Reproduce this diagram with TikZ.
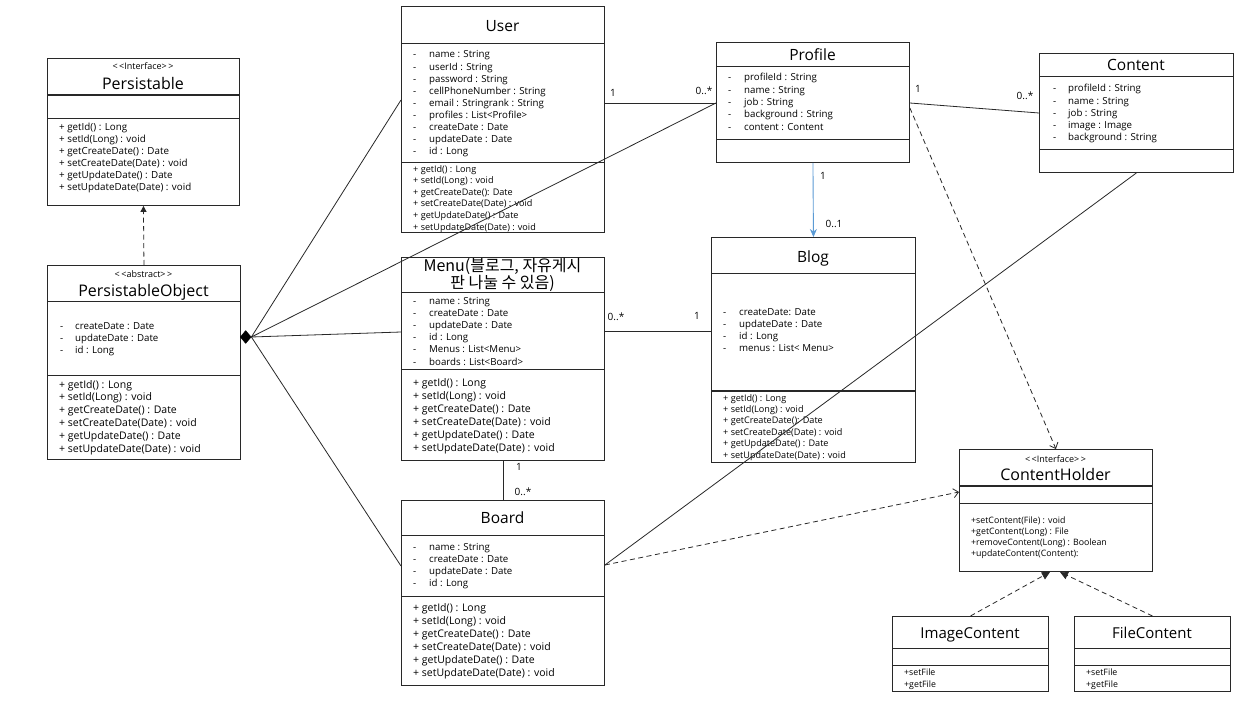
\documentclass[tikz,border=0pt]{standalone}
\usepackage{fontspec}
\setmainfont{Open Sans}
\newfontfamily\krfont{Noto Sans CJK KR}
\usetikzlibrary{arrows.meta,shapes.geometric}
\definecolor{lineblue}{RGB}{91,155,213}
\definecolor{ink}{RGB}{40,40,40}
\newcommand\attrlist[6]{% name prefix, dash x, text x, first y, step, list
  \foreach \t [count=\i from 0] in {#6} {
    \node[attr] (#1d\i) at (#2,#4+#5*\i) {-};
    \node[attr] (#1a\i) at (#3,#4+#5*\i) {\t};
  }}
\newcommand\methlist[6]{% name prefix, font style, x, first y, step, list
  \foreach \t [count=\i from 0] in {#6} {
    \node[attr,#2] (#1m\i) at (#3,#4+#5*\i) {\t};
  }}
\begin{document}
\begin{tikzpicture}[x=1pt,y=-1pt,
  box/.style={draw=ink, line width=0.9pt, anchor=north west, inner sep=0pt},
  sep/.style={draw=ink, line width=0.9pt},
  thicksep/.style={draw=ink, line width=1.9pt},
  title/.style={inner sep=0pt, text height=14pt, text depth=3pt, font=\fontsize{15.5}{17}\selectfont},
  stereo/.style={inner sep=0pt, text height=8pt, text depth=2pt, font=\fontsize{9}{10}\selectfont},
  attr/.style={anchor=west, inner sep=0pt, text height=6pt, text depth=2pt, font=\fontsize{9.7}{11}\selectfont},
  mbig/.style={font=\fontsize{10.5}{12}\selectfont},
  mmid/.style={font=\fontsize{9.8}{11}\selectfont},
  msmall/.style={font=\fontsize{9.1}{11}\selectfont},
  mtiny/.style={font=\fontsize{8.8}{10}\selectfont},
  mult/.style={inner sep=0pt, font=\fontsize{10}{11}\selectfont},
  conn/.style={draw=ink, line width=0.8pt},
  dconn/.style={draw=ink, line width=0.8pt, dash pattern=on 5pt off 3.5pt},
]
\useasboundingbox (0,0) rectangle (1255,701);
\fill[white] (0,0) rectangle (1255,701);

% ---------- Persistable ----------
\node[box, minimum width=192pt, minimum height=147pt] (persistable) at (47,58) {};
\node[stereo] (persistable-s) at (143,67) {<\,<Interface>\,>};
\node[title, font=\fontsize{16}{18}\selectfont] (persistable-t) at (143,84) {Persistable};
\draw[thicksep] (persistable.west |- 0,95) -- (persistable.east |- 0,95);
\draw[sep] (persistable.west |- 0,118) -- (persistable.east |- 0,118);
\methlist{pe}{mmid}{59}{128}{12}{+ getId() : Long, + setId(Long) : void, + getCreateDate() : Date, + setCreateDate(Date) : void, + getUpdateDate() : Date, + setUpdateDate(Date) : void}

% ---------- PersistableObject ----------
\node[box, minimum width=193pt, minimum height=194pt] (po) at (47,265) {};
\node[stereo] (po-s) at (143.5,274) {<\,<abstract>\,>};
\node[title, font=\fontsize{16}{18}\selectfont] (po-t) at (143.5,291) {PersistableObject};
\draw[sep] (po.west |- 0,301) -- (po.east |- 0,301);
\attrlist{po}{60}{75}{327}{12}{createDate : Date, updateDate : Date, id : Long}
\draw[sep] (po.west |- 0,375) -- (po.east |- 0,375);
\methlist{po}{mbig}{59}{386}{12.8}{+ getId() : Long, + setId(Long) : void, + getCreateDate() : Date, + setCreateDate(Date) : void, + getUpdateDate() : Date, + setUpdateDate(Date) : void}

% ---------- User ----------
\node[box, minimum width=203pt, minimum height=226pt] (user) at (401,6) {};
\node[title] (user-t) at (502.5,26) {User};
\draw[sep] (user.west |- 0,43) -- (user.east |- 0,43);
\attrlist{us}{413}{429}{56}{12.1}{name : String, userId : String, password : String, cellPhoneNumber : String, email : Stringrank : String, profiles : List<Profile>, createDate : Date, updateDate : Date, id : Long}
\draw[sep] (user.west |- 0,162) -- (user.east |- 0,162);
\methlist{us}{msmall}{413}{170}{11.6}{+ getId() : Long, + setId(Long) : void, + getCreateDate(): Date, + setCreateDate(Date) : void, + getUpdateDate() : Date, + setUpdateDate(Date) : void}

% ---------- Menu ----------
\node[box, minimum width=203pt, minimum height=203pt] (menu) at (401,257) {};
\node[title, font=\krfont\fontsize{16}{18}\selectfont] (menu-t1) at (502.5,266) {Menu(블로그, 자유게시};
\node[title, font=\krfont\fontsize{16}{18}\selectfont] (menu-t2) at (502.5,283) {판 나눌 수 있음)};
\draw[sep] (menu.west |- 0,292) -- (menu.east |- 0,292);
\attrlist{me}{413}{429}{302}{12.2}{name : String, createDate : Date, updateDate : Date, id : Long, Menus : List<Menu>, boards : List<Board>}
\draw[sep] (menu.west |- 0,369) -- (menu.east |- 0,369);
\methlist{me}{mbig}{413}{384}{13}{+ getId() : Long, + setId(Long) : void, + getCreateDate() : Date, + setCreateDate(Date) : void, + getUpdateDate() : Date, + setUpdateDate(Date) : void}

% ---------- Board ----------
\node[box, minimum width=203pt, minimum height=185pt] (board) at (401,500) {};
\node[title] (board-t) at (502.5,518) {Board};
\draw[sep] (board.west |- 0,535) -- (board.east |- 0,535);
\attrlist{bo}{413}{429}{548}{12.3}{name : String, createDate : Date, updateDate : Date, id : Long}
\draw[sep] (board.west |- 0,596) -- (board.east |- 0,596);
\methlist{bo}{mbig}{413}{609}{13}{+ getId() : Long, + setId(Long) : void, + getCreateDate() : Date, + setCreateDate(Date) : void, + getUpdateDate() : Date, + setUpdateDate(Date) : void}

% ---------- Profile ----------
\node[box, minimum width=193pt, minimum height=120pt] (profile) at (716,42) {};
\node[title] (profile-t) at (812.5,55) {Profile};
\draw[sep] (profile.west |- 0,66) -- (profile.east |- 0,66);
\attrlist{pr}{728}{744}{79}{12.3}{profileId : String, name : String, job : String, background : String, content : Content}
\draw[sep] (profile.west |- 0,139) -- (profile.east |- 0,139);

% ---------- Content ----------
\node[box, minimum width=194pt, minimum height=119pt] (content) at (1039,53) {};
\node[title] (content-t) at (1136,65) {Content};
\draw[sep] (content.west |- 0,76) -- (content.east |- 0,76);
\attrlist{co}{1053}{1068}{90}{12}{profileId : String, name : String, job : String, image : Image, background : String}
\draw[sep] (content.west |- 0,149) -- (content.east |- 0,149);

% ---------- Blog ----------
\node[box, minimum width=204pt, minimum height=225pt] (blog) at (711,237) {};
\node[title] (blog-t) at (813,257) {Blog};
\draw[sep] (blog.west |- 0,273) -- (blog.east |- 0,273);
\attrlist{bl}{723}{739}{313}{12}{createDate: Date, updateDate : Date, id : Long, menus : List< Menu>}
\draw[thicksep] (blog.west |- 0,391) -- (blog.east |- 0,391);
\methlist{bl}{msmall}{723}{399}{11.4}{+ getId() : Long, + setId(Long) : void, + getCreateDate(): Date, + setCreateDate(Date) : void, + getUpdateDate() : Date, + setUpdateDate(Date) : void}

% ---------- ContentHolder ----------
\node[box, minimum width=193pt, minimum height=122pt] (ch) at (959,449) {};
\node[stereo] (ch-s) at (1055.5,459) {<\,<Interface>\,>};
\node[title, font=\fontsize{16}{18}\selectfont] (ch-t) at (1055.5,475) {ContentHolder};
\draw[thicksep] (ch.west |- 0,486) -- (ch.east |- 0,486);
\draw[sep] (ch.west |- 0,503) -- (ch.east |- 0,503);
\methlist{ch}{mtiny}{971}{521}{11.3}{+setContent(File) : void, +getContent(Long) : File, +removeContent(Long) : Boolean, +updateContent(Content):}

% ---------- ImageContent / FileContent ----------
\node[box, minimum width=156pt, minimum height=75pt] (img) at (892,616) {};
\node[title, font=\fontsize{15}{17}\selectfont] (img-t) at (970,633) {ImageContent};
\draw[sep] (img.west |- 0,648) -- (img.east |- 0,648);
\draw[sep] (img.west |- 0,665) -- (img.east |- 0,665);
\methlist{im}{mtiny}{904}{673}{12}{+setFile, +getFile}

\node[box, minimum width=156pt, minimum height=75pt] (file) at (1074,616) {};
\node[title, font=\fontsize{15}{17}\selectfont] (file-t) at (1152,633) {FileContent};
\draw[sep] (file.west |- 0,648) -- (file.east |- 0,648);
\draw[sep] (file.west |- 0,665) -- (file.east |- 0,665);
\methlist{fi}{mtiny}{1086}{673}{12}{+setFile, +getFile}

% ---------- attachment points ----------
\node[diamond, fill=black, draw=black, inner sep=0pt, minimum width=11pt, minimum height=13pt, anchor=west] (dia) at (240,337) {};
\coordinate (uL) at (user.west |- 0,100);
\coordinate (uR) at (user.east |- 0,103);
\coordinate (pL) at (profile.west |- 0,103);
\coordinate (pR) at (profile.east |- 0,103);
\coordinate (pRd) at (profile.east |- 0,108);
\coordinate (cL) at (content.west |- 0,113);
\coordinate (mL) at (menu.west |- 0,332);
\coordinate (mR) at (menu.east |- 0,331);
\coordinate (bL) at (blog.west |- 0,331);
\coordinate (boL) at (board.west |- 0,566);
\coordinate (boR) at (board.east |- 0,565);
\coordinate (chL) at (ch.west |- 0,492);
\coordinate (chB1) at (1050,572);
\coordinate (chB2) at (1060,572);

% ---------- connectors ----------
\draw[dconn, -{Triangle[length=6pt,width=6pt]}] (po.north) -- (persistable.south);
\draw[conn] (dia.east) -- (uL);
\draw[conn] (dia.east) -- (pL);
\draw[conn] (dia.east) -- (mL);
\draw[conn] (dia.east) -- (boL);
\draw[conn] (uR) -- (pL);
\draw[conn] (pR) -- (cL);
\draw[draw=lineblue, line width=0.9pt, -{Stealth[length=8pt,width=7pt]}] (profile.south) -- (blog.north);
\draw[conn] (mR) -- (bL);
\draw[conn] (menu.south) -- (board.north);
\draw[conn] (boR) -- (content.south);
\draw[dconn, -{Straight Barb[length=5pt,width=9pt]}] (boR) -- (chL);
\draw[dconn, -{Straight Barb[length=5pt,width=9pt]}] (pRd) -- (ch.north);
\draw[dconn, -{Triangle[length=8pt,width=8pt]}] (img.north) -- (chB1);
\draw[dconn, -{Triangle[length=8pt,width=8pt]}] (file.north) -- (chB2);

% ---------- multiplicities ----------
\node[mult] (m1) at (613,93) {1};
\node[mult] (m2) at (704,91) {0..*};
\node[mult] (m3) at (918,89) {1};
\node[mult] (m4) at (1025,96) {0..*};
\node[mult] (m5) at (823,176) {1};
\node[mult] (m6) at (834,224) {0..1};
\node[mult] (m7) at (616,317) {0..*};
\node[mult] (m8) at (697,316) {1};
\node[mult] (m9) at (519,467) {1};
\node[mult] (m10) at (523,492) {0..*};
\end{tikzpicture}
\end{document}
